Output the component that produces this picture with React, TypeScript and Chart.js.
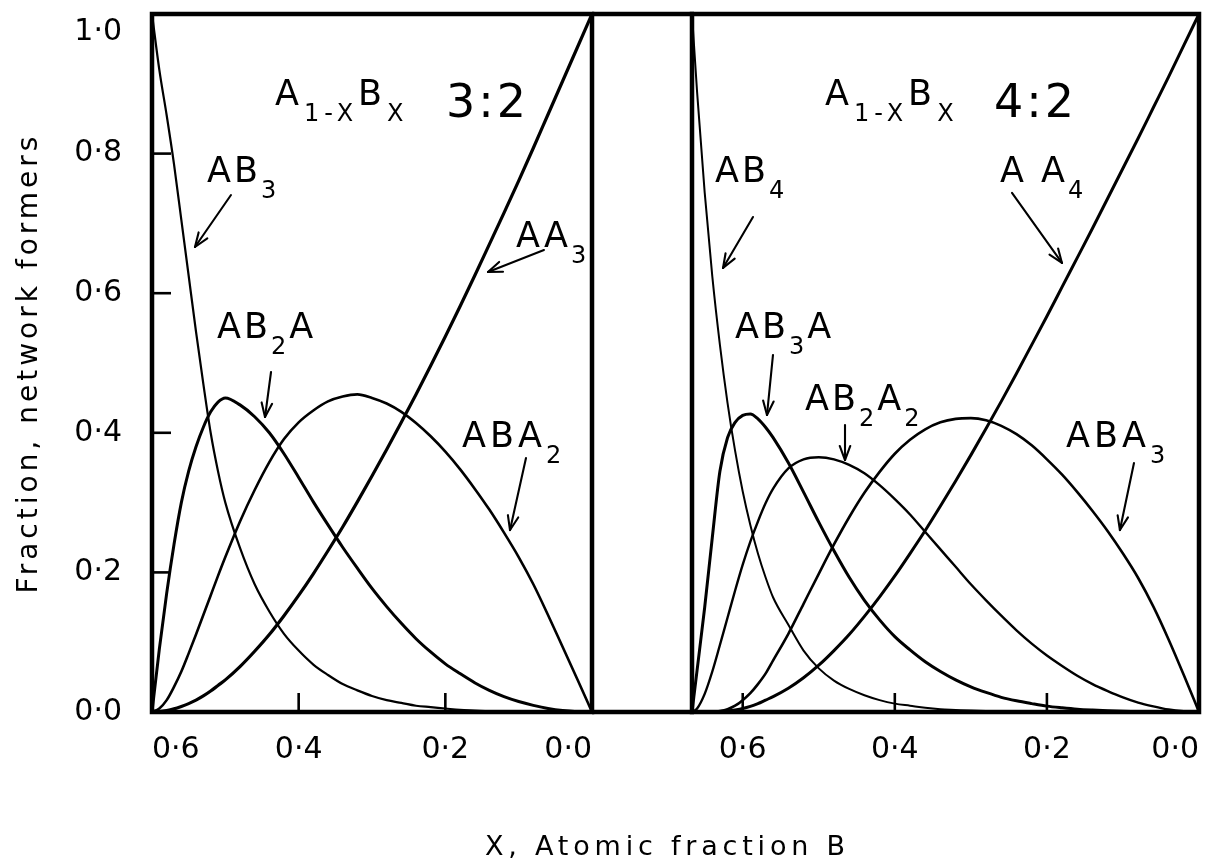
import React, { useEffect, useRef } from 'react';
import { Chart, registerables } from 'chart.js';

Chart.register(...registerables);

// ---- A(1-x)B(x), 3:2 coordination: fraction of each A-centred unit vs x ----
const X_32 = [0.6, 0.59, 0.58, 0.57, 0.56, 0.55, 0.54, 0.53, 0.52, 0.51, 0.5, 0.48, 0.46, 0.44, 0.42, 0.4, 0.38, 0.36, 0.34, 0.32, 0.3, 0.28, 0.26, 0.24, 0.22, 0.2, 0.18, 0.16, 0.14, 0.12, 0.1, 0.08, 0.06, 0.04, 0.02, 0];
const AB3_32 = [1.0, 0.92, 0.855, 0.785, 0.705, 0.625, 0.545, 0.47, 0.4, 0.345, 0.3, 0.235, 0.183, 0.144, 0.112, 0.088, 0.068, 0.053, 0.04, 0.031, 0.023, 0.017, 0.013, 0.009, 0.007, 0.005, 0.003, 0.002, 0.001, 0.001, 0, 0, 0, 0, 0, 0];
const AB2A_32 = [0, 0.09, 0.17, 0.24, 0.3, 0.345, 0.38, 0.408, 0.43, 0.444, 0.45, 0.44, 0.423, 0.4, 0.37, 0.336, 0.301, 0.268, 0.236, 0.206, 0.177, 0.151, 0.127, 0.105, 0.086, 0.069, 0.055, 0.042, 0.031, 0.022, 0.015, 0.0095, 0.005, 0.002, 0.0005, 0];
const ABA2_32 = [0, 0.005, 0.017, 0.036, 0.058, 0.084, 0.111, 0.139, 0.167, 0.195, 0.222, 0.273, 0.318, 0.358, 0.391, 0.415, 0.432, 0.445, 0.452, 0.455, 0.45, 0.442, 0.43, 0.414, 0.395, 0.373, 0.348, 0.32, 0.29, 0.257, 0.222, 0.183, 0.139, 0.093, 0.047, 0];
const AA3_32 = [0, 0.0005, 0.002, 0.0045, 0.008, 0.012, 0.017, 0.023, 0.03, 0.038, 0.046, 0.065, 0.087, 0.111, 0.138, 0.167, 0.198, 0.231, 0.265, 0.301, 0.338, 0.376, 0.415, 0.455, 0.496, 0.538, 0.581, 0.625, 0.67, 0.715, 0.761, 0.808, 0.856, 0.904, 0.952, 1.0];

// ---- A(1-x)B(x), 4:2 coordination ----
const X_42 = [0.6667, 0.66, 0.65, 0.64, 0.63, 0.62, 0.61, 0.6, 0.59, 0.58, 0.57, 0.56, 0.54, 0.52, 0.5, 0.48, 0.46, 0.44, 0.42, 0.4, 0.38, 0.36, 0.34, 0.32, 0.3, 0.28, 0.26, 0.24, 0.22, 0.2, 0.18, 0.16, 0.14, 0.12, 0.1, 0.08, 0.06, 0.04, 0.02, 0];
const AB4_42 = [1.0, 0.888, 0.744, 0.624, 0.526, 0.443, 0.374, 0.316, 0.268, 0.227, 0.193, 0.164, 0.125, 0.088, 0.0625, 0.045, 0.033, 0.024, 0.017, 0.012, 0.009, 0.006, 0.004, 0.003, 0.002, 0.0014, 0.001, 0.0006, 0.0004, 0.0002, 0, 0, 0, 0, 0, 0, 0, 0, 0, 0];
const AB3A_42 = [0, 0.06, 0.15, 0.25, 0.345, 0.393, 0.415, 0.425, 0.427, 0.42, 0.408, 0.393, 0.357, 0.315, 0.272, 0.231, 0.193, 0.16, 0.132, 0.108, 0.089, 0.072, 0.058, 0.046, 0.036, 0.028, 0.021, 0.016, 0.012, 0.0084, 0.006, 0.004, 0.0027, 0.0017, 0.001, 0.0005, 0.0002, 0.0001, 0, 0];
const AB2A2_42 = [0, 0.005, 0.026, 0.058, 0.096, 0.135, 0.174, 0.211, 0.244, 0.273, 0.299, 0.32, 0.349, 0.362, 0.365, 0.362, 0.354, 0.342, 0.325, 0.305, 0.283, 0.258, 0.233, 0.208, 0.183, 0.16, 0.138, 0.117, 0.098, 0.081, 0.066, 0.052, 0.04, 0.03, 0.021, 0.0135, 0.008, 0.0035, 0.001, 0];
const ABA3_42 = [0, 0, 0.0001, 0.0004, 0.0015, 0.004, 0.009, 0.017, 0.027, 0.04, 0.055, 0.074, 0.112, 0.155, 0.198, 0.24, 0.279, 0.314, 0.344, 0.37, 0.39, 0.405, 0.415, 0.42, 0.421, 0.418, 0.41, 0.398, 0.382, 0.362, 0.34, 0.315, 0.288, 0.259, 0.227, 0.192, 0.151, 0.104, 0.053, 0];
const AA4_42 = [0, 0, 0, 0.0002, 0.0007, 0.0015, 0.003, 0.005, 0.008, 0.012, 0.017, 0.022, 0.034, 0.049, 0.067, 0.088, 0.111, 0.137, 0.165, 0.195, 0.227, 0.26, 0.295, 0.331, 0.368, 0.406, 0.445, 0.485, 0.526, 0.567, 0.609, 0.651, 0.693, 0.736, 0.779, 0.822, 0.866, 0.91, 0.955, 1.0];

// axis ranges and tick labels
const X_MAX_32 = 0.6;
const X_MAX_42 = 0.6667;
const X_TICKS = [0, 0.2, 0.4, 0.6];
const Y_TICKS = [0, 0.2, 0.4, 0.6, 0.8, 1.0];

const FONT = '"DejaVu Sans", sans-serif';

type Run = { t: string; sub?: boolean; big?: boolean };
type Note = { x: number; y: number; runs: Run[]; spacing?: number; arrow?: [number, number, number, number] };

// panel captions and curve labels (anchored in data units: left edge, baseline)
const NOTES_32: Note[] = [
  { x: 0.4323, y: 0.8696, spacing: 5, runs: [{ t: 'A' }, { t: '1-X', sub: true }, { t: 'B' }, { t: 'X', sub: true }] },
  { x: 0.1991, y: 0.8524, runs: [{ t: '3:2', big: true }] },
  { x: 0.525, y: 0.7593, runs: [{ t: 'AB' }, { t: '3', sub: true }], arrow: [0.4923, 0.7407, 0.5414, 0.6662] },
  { x: 0.1036, y: 0.6662, runs: [{ t: 'AA' }, { t: '3', sub: true }], arrow: [0.0655, 0.6619, 0.1418, 0.6304] },
  { x: 0.5114, y: 0.5358, runs: [{ t: 'AB' }, { t: '2', sub: true }, { t: 'A' }], arrow: [0.4377, 0.4871, 0.4459, 0.4226] },
  { x: 0.1773, y: 0.3797, spacing: 4, runs: [{ t: 'ABA' }, { t: '2', sub: true }], arrow: [0.09, 0.3639, 0.1118, 0.2607] },
];

const NOTES_42: Note[] = [
  { x: 0.4918, y: 0.8696, spacing: 5, runs: [{ t: 'A' }, { t: '1-X', sub: true }, { t: 'B' }, { t: 'X', sub: true }] },
  { x: 0.2696, y: 0.8524, runs: [{ t: '4:2', big: true }] },
  { x: 0.6365, y: 0.7593, runs: [{ t: 'AB' }, { t: '4', sub: true }], arrow: [0.5865, 0.7092, 0.6259, 0.6361] },
  { x: 0.2617, y: 0.7593, runs: [{ t: 'A A' }, { t: '4', sub: true }], arrow: [0.2459, 0.7436, 0.1802, 0.6433] },
  { x: 0.6102, y: 0.5358, runs: [{ t: 'AB' }, { t: '3', sub: true }, { t: 'A' }], arrow: [0.5602, 0.5115, 0.5681, 0.4255] },
  { x: 0.5181, y: 0.4327, runs: [{ t: 'AB' }, { t: '2', sub: true }, { t: 'A' }, { t: '2', sub: true }], arrow: [0.4655, 0.4112, 0.4655, 0.361] },
  { x: 0.1749, y: 0.3797, spacing: 4, runs: [{ t: 'ABA' }, { t: '3', sub: true }], arrow: [0.0855, 0.3567, 0.104, 0.2607] },
];

const fmt = (v: number) => v.toFixed(1).replace('.', '\u00b7');

function series(xs: number[], ys: number[], label: string, width: number) {
  return {
    label,
    data: xs.map((x, i) => ({ x, y: ys[i] })),
    borderColor: '#000',
    borderWidth: width,
    pointRadius: 0,
    fill: false,
    cubicInterpolationMode: 'monotone' as const,
  };
}

function line(ctx: CanvasRenderingContext2D, x0: number, y0: number, x1: number, y1: number) {
  ctx.beginPath();
  ctx.moveTo(x0, y0);
  ctx.lineTo(x1, y1);
  ctx.stroke();
}

function drawRuns(ctx: CanvasRenderingContext2D, x: number, y: number, runs: Run[]) {
  let cx = x;
  for (const r of runs) {
    const size = r.big ? 46 : r.sub ? 24 : 35;
    ctx.font = `${size}px ${FONT}`;
    ctx.fillText(r.t, cx, y + (r.sub ? 16 : 0));
    cx += ctx.measureText(r.t).width;
  }
}

function makeDecor(notes: Note[], opts: { yTicks: boolean; bridge: boolean; yTitle: boolean }) {
  return {
    id: 'panelDecor',
    afterDatasetsDraw(chart: any) {
      const ctx: CanvasRenderingContext2D = chart.ctx;
      const a = chart.chartArea;
      const xs = chart.scales.x;
      const ys = chart.scales.y;
      ctx.save();
      ctx.strokeStyle = '#000';
      ctx.fillStyle = '#000';

      // short inward tick marks
      ctx.lineWidth = 2.6;
      for (const t of xs.ticks) {
        if (t.value > xs.min + 1e-6 && t.value < xs.max - 1e-6) {
          const px = xs.getPixelForValue(t.value);
          line(ctx, px, a.bottom, px, a.bottom - 19);
        }
      }
      if (opts.yTicks) {
        for (const t of ys.ticks) {
          if (t.value > ys.min + 1e-6 && t.value < ys.max - 1e-6) {
            const py = ys.getPixelForValue(t.value);
            line(ctx, a.left, py, a.left + 19, py);
          }
        }
      }

      // heavy frame
      ctx.lineWidth = 4.5;
      ctx.lineJoin = 'miter';
      ctx.strokeRect(a.left, a.top, a.right - a.left, a.bottom - a.top);
      if (opts.bridge) {
        line(ctx, a.right, a.top, chart.width, a.top);
        line(ctx, a.right, a.bottom, chart.width, a.bottom);
      }

      // arrows
      ctx.lineWidth = 2.1;
      ctx.lineCap = 'round';
      for (const n of notes) {
        if (!n.arrow) continue;
        const [x0, y0, x1, y1] = n.arrow;
        const p0x = xs.getPixelForValue(x0), p0y = ys.getPixelForValue(y0);
        const p1x = xs.getPixelForValue(x1), p1y = ys.getPixelForValue(y1);
        line(ctx, p0x, p0y, p1x, p1y);
        const ang = Math.atan2(p1y - p0y, p1x - p0x);
        const hl = 15, spread = 0.36;
        line(ctx, p1x, p1y, p1x - hl * Math.cos(ang - spread), p1y - hl * Math.sin(ang - spread));
        line(ctx, p1x, p1y, p1x - hl * Math.cos(ang + spread), p1y - hl * Math.sin(ang + spread));
      }

      // labels
      ctx.textAlign = 'left';
      ctx.textBaseline = 'alphabetic';
      for (const n of notes) {
        (ctx as any).letterSpacing = `${n.spacing ?? 3}px`;
        drawRuns(ctx, xs.getPixelForValue(n.x), ys.getPixelForValue(n.y), n.runs);
      }

      if (opts.yTitle) {
        (ctx as any).letterSpacing = '4px';
        ctx.font = `28px ${FONT}`;
        ctx.textAlign = 'center';
        ctx.translate(37, (a.top + a.bottom) / 2);
        ctx.rotate(-Math.PI / 2);
        ctx.fillText('Fraction, network formers', 0, 0);
      }
      (ctx as any).letterSpacing = '0px';
      ctx.restore();
    },
  };
}

function makeConfig(kind: '32' | '42') {
  const is32 = kind === '32';
  const xMax = is32 ? X_MAX_32 : X_MAX_42;
  const tickVals = is32 ? X_TICKS : [...X_TICKS, X_MAX_42];
  const datasets = is32
    ? [
        series(X_32, AB3_32, 'AB3', 2.2),
        series(X_32, AB2A_32, 'AB2A', 3),
        series(X_32, ABA2_32, 'ABA2', 2.6),
        series(X_32, AA3_32, 'AA3', 3.2),
      ]
    : [
        series(X_42, AB4_42, 'AB4', 2),
        series(X_42, AB3A_42, 'AB3A', 3),
        series(X_42, AB2A2_42, 'AB2A2', 2.4),
        series(X_42, ABA3_42, 'ABA3', 2.6),
        series(X_42, AA4_42, 'AA4', 3),
      ];
  const tickFont = { family: FONT, size: 30 };
  return {
    type: 'line' as const,
    data: { datasets },
    options: {
      responsive: false,
      animation: false as const,
      devicePixelRatio: 1,
      layout: {
        padding: is32 ? { left: 0, right: 102, top: 14, bottom: 0 } : { left: 20, right: 11, top: 14, bottom: 0 },
      },
      plugins: { legend: { display: false }, tooltip: { enabled: false } },
      scales: {
        x: {
          type: 'linear' as const,
          reverse: true,
          min: 0,
          max: xMax,
          afterBuildTicks: (s: any) => {
            s.ticks = tickVals.map((v) => ({ value: v }));
          },
          afterFit: (s: any) => {
            s.height = 155;
            s.paddingLeft = 0;
            s.paddingRight = 0;
          },
          grid: { display: false, drawTicks: false },
          border: { display: false },
          ticks: {
            padding: 20,
            align: 'inner' as const,
            maxRotation: 0,
            autoSkip: false,
            color: '#000',
            font: tickFont,
            callback: (v: any) => (X_TICKS.includes(Number(v)) ? fmt(Number(v)) : ''),
          },
        },
        y: {
          type: 'linear' as const,
          display: is32,
          min: 0,
          max: 1.0,
          afterBuildTicks: (s: any) => {
            s.ticks = Y_TICKS.map((v) => ({ value: v }));
          },
          afterFit: (s: any) => {
            if (is32) s.width = 152;
            s.paddingTop = 0;
            s.paddingBottom = 0;
          },
          grid: { display: false, drawTicks: false },
          border: { display: false },
          ticks: {
            padding: 30,
            color: '#000',
            font: tickFont,
            // the top label sits just under the frame line
            callback: (v: any) => (Number(v) >= 1 ? ['', fmt(Number(v))] : fmt(Number(v))),
          },
        },
      },
    },
    plugins: [makeDecor(is32 ? NOTES_32 : NOTES_42, { yTicks: is32, bridge: is32, yTitle: is32 })],
  };
}

export default function App() {
  const leftRef = useRef<HTMLCanvasElement>(null);
  const rightRef = useRef<HTMLCanvasElement>(null);

  useEffect(() => {
    const left = new Chart(leftRef.current as HTMLCanvasElement, makeConfig('32') as any);
    const right = new Chart(rightRef.current as HTMLCanvasElement, makeConfig('42') as any);
    return () => {
      left.destroy();
      right.destroy();
    };
  }, []);

  return (
    <div style={{ position: 'absolute', left: 0, top: 0, width: 1210, height: 867, background: '#fff', overflow: 'hidden' }}>
      <canvas ref={leftRef} width={694} height={867} style={{ position: 'absolute', left: 0, top: 0 }} />
      <canvas ref={rightRef} width={538} height={867} style={{ position: 'absolute', left: 672, top: 0 }} />
      <div
        style={{
          position: 'absolute',
          left: 485,
          top: 832,
          font: `27px ${FONT}`,
          lineHeight: '27px',
          letterSpacing: '4.8px',
          whiteSpace: 'nowrap',
          color: '#000',
        }}
      >
        X, Atomic fraction B
      </div>
    </div>
  );
}
